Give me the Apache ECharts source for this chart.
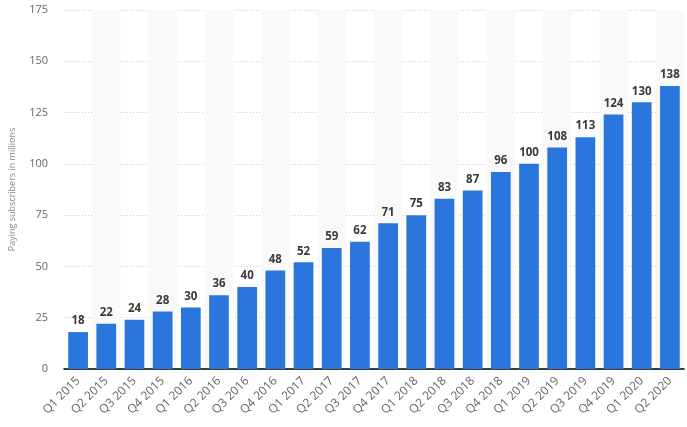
<!DOCTYPE html>
<html><head><meta charset="utf-8">
<script src="https://cdn.jsdelivr.net/npm/echarts@6/dist/echarts.min.js"></script>
<style>html,body{margin:0;padding:0;background:#fff}#c{width:687px;height:427px}</style>
</head><body><div id="c"></div>
<script>
const categories = ['Q1 2015','Q2 2015','Q3 2015','Q4 2015','Q1 2016','Q2 2016','Q3 2016','Q4 2016','Q1 2017','Q2 2017','Q3 2017','Q4 2017','Q1 2018','Q2 2018','Q3 2018','Q4 2018','Q1 2019','Q2 2019','Q3 2019','Q4 2019','Q1 2020','Q2 2020'];
const subscribers = [18,22,24,28,30,36,40,48,52,59,62,71,75,83,87,96,100,108,113,124,130,138];
const yTicks = [0,25,50,75,100,125,150,175];

const chart = echarts.init(document.getElementById('c'));
chart.setOption({
  animation:false,
  grid:{left:55,right:3,top:10,bottom:58},
  xAxis:{
    type:'category', data:categories,
    axisLine:{lineStyle:{color:'#000',width:1.5}},
    axisTick:{show:false},
    axisLabel:{rotate:45, color:'#666', fontSize:12, fontFamily:'Open Sans', interval:0, margin:10},
    splitArea:{show:true, interval:0, areaStyle:{color:['rgba(255,255,255,0)','#f9f9f9']}}
  },
  yAxis:{
    type:'value', min:yTicks[0], max:yTicks[yTicks.length-1], interval:25,
    name:'Paying subscribers in millions', nameLocation:'middle', nameGap:47,
    nameTextStyle:{color:'#888', fontSize:9, fontFamily:'Open Sans'},
    axisLine:{show:false}, axisTick:{show:false},
    axisLabel:{color:'#666', fontSize:11, fontFamily:'Open Sans', margin:16},
    splitLine:{lineStyle:{color:'#ccc', type:[1,2]}}
  },
  series:[{
    type:'bar', data:subscribers, barWidth:'70%',
    itemStyle:{color:'#2b76dc'},
    label:{show:true, position:'top', color:'#3a3a3a', fontWeight:'bold', fontSize:11.5, fontFamily:'Open Sans', distance:5}
  }]
});
</script></body></html>
